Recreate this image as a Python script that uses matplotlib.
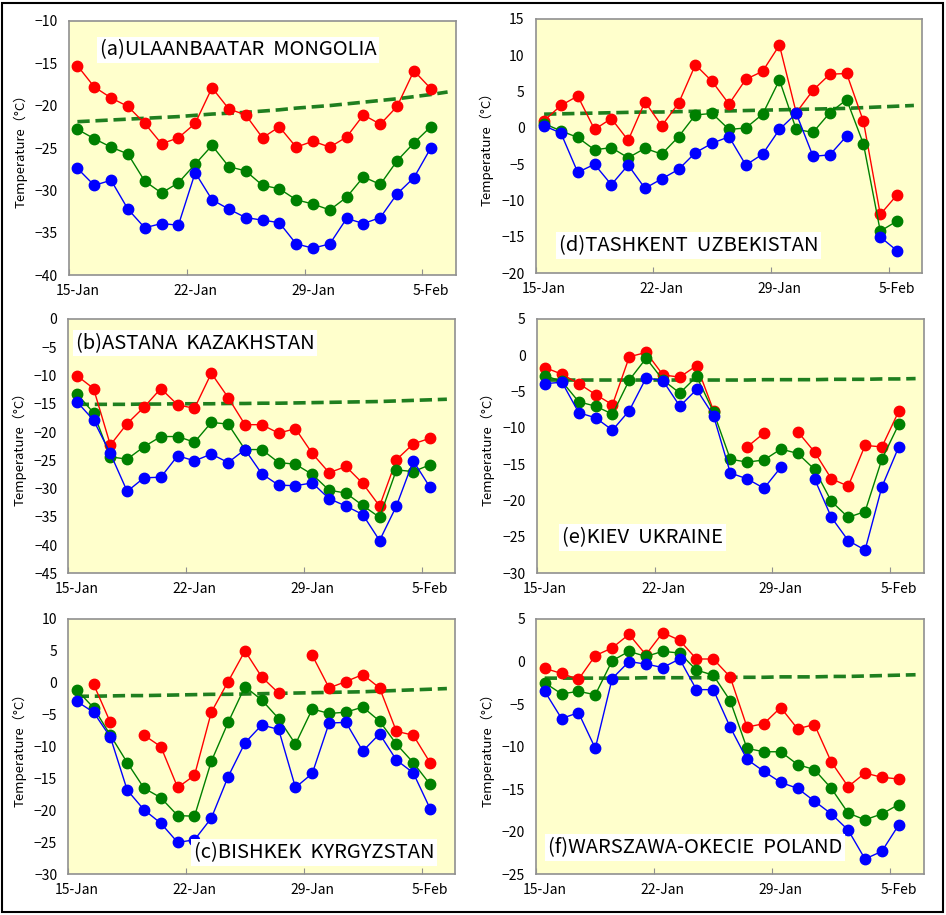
import numpy as np
import matplotlib
matplotlib.use('Agg')
import matplotlib.pyplot as plt
from matplotlib.patches import Rectangle

plt.rcParams['font.family'] = ['Noto Sans CJK JP', 'DejaVu Sans']

#%% data: daily max / mean / min from 15-Jan to 5-Feb, plus the normal (mean) curve
nan = np.nan
date_ticks = ['15-Jan', '22-Jan', '29-Jan', '5-Feb']

# (a) Ulaanbaatar
a_max = [-15.3, -17.8, -19.1, -20.1, -22.1, -24.5, -23.8, -22.1, -17.9, -20.4, -21.1,
         -23.8, -22.5, -24.9, -24.2, -24.9, -23.7, -21.1, -22.2, -20.1, -15.9, -18.0]
a_mean = [-22.8, -23.9, -24.9, -25.7, -28.9, -30.3, -29.1, -26.9, -24.7, -27.2, -27.7,
          -29.4, -29.8, -31.1, -31.6, -32.3, -30.8, -28.4, -29.3, -26.5, -24.4, -22.5]
a_min = [-27.4, -29.4, -28.8, -32.2, -34.4, -33.9, -34.1, -27.9, -31.1, -32.2, -33.2,
         -33.5, -33.8, -36.3, -36.8, -36.3, -33.3, -33.9, -33.2, -30.4, -28.5, -25.0]
a_norm = [-21.9, -21.8, -21.7, -21.6, -21.5, -21.4, -21.3, -21.15, -21.0, -20.9, -20.8, -20.65,
          -20.5, -20.3, -20.15, -20.0, -19.8, -19.6, -19.4, -19.2, -18.95, -18.7, -18.4]

# (b) Astana
b_max = [-10.0, -12.3, -22.3, -18.5, -15.6, -12.3, -15.2, -15.8, -9.6, -13.9, -18.7,
         -18.7, -20.2, -19.4, -23.8, -27.2, -26.1, -29.1, -33.1, -24.9, -22.1, -21.1]
b_mean = [-13.2, -16.6, -24.4, -24.8, -22.6, -20.8, -20.8, -21.8, -18.3, -18.6, -23.1,
          -23.1, -25.4, -25.7, -27.5, -30.3, -30.8, -33.0, -35.1, -26.7, -27.0, -25.8]
b_min = [-14.6, -17.9, -23.8, -30.5, -28.1, -28.0, -24.2, -25.1, -23.9, -25.4, -23.1,
         -27.4, -29.4, -29.5, -29.0, -31.8, -33.1, -34.6, -39.2, -33.1, -25.1, -29.8]
b_norm = [-15.1, -15.1, -15.1, -15.1, -15.05, -15.05, -15.0, -15.0, -15.0, -14.95, -14.95, -14.9,
          -14.9, -14.85, -14.8, -14.75, -14.7, -14.65, -14.6, -14.5, -14.4, -14.3, -14.2]

# (c) Bishkek
c_max = [nan, -0.2, -6.2, nan, -8.2, -10.0, -16.4, -14.5, -4.6, 0.2, 5.0,
         0.9, -1.6, nan, 4.3, -0.8, 0.2, 1.3, -0.8, -7.6, -8.2, -12.5]
c_mean = [-1.1, -3.9, -8.2, -12.5, -16.5, -18.0, -20.8, -20.9, -12.3, -6.2, -0.6,
          -2.7, -5.6, -9.6, -4.1, -4.8, -4.6, -3.8, -6.0, -9.6, -12.5, -15.9]
c_min = [-2.9, -4.6, -8.5, -16.8, -19.9, -22.0, -25.0, -24.6, -21.2, -14.7, -9.4,
         -6.6, -7.3, -16.4, -14.2, -6.3, -6.2, -10.7, -8.0, -12.1, -14.1, -19.7]
c_norm = [-2.1, -2.1, -2.05, -2.0, -2.0, -1.95, -1.9, -1.85, -1.8, -1.8, -1.75, -1.7,
          -1.65, -1.6, -1.55, -1.5, -1.45, -1.4, -1.3, -1.2, -1.1, -1.0, -0.9]

# (d) Tashkent
d_max = [1.0, 3.1, 4.4, -0.2, 1.3, -1.7, 3.6, 0.3, 3.4, 8.7, 6.4,
         3.3, 6.7, 7.8, 11.4, 2.1, 5.2, 7.4, 7.5, 0.9, -11.9, -9.2]
d_mean = [0.6, -0.4, -1.3, -3.0, -2.7, -4.1, -2.8, -3.6, -1.2, 1.8, 2.0,
          -0.2, 0.0, 1.9, 6.6, -0.2, -0.6, 2.1, 3.9, -2.2, -14.2, -12.8]
d_min = [0.3, -0.7, -6.1, -5.0, -7.8, -5.1, -8.3, -7.0, -5.7, -3.4, -2.1,
         -1.2, -5.1, -3.6, -0.2, 2.0, -3.9, -3.7, -1.1, nan, -15.0, -16.9]
d_norm = [1.9, 1.95, 2.0, 2.05, 2.1, 2.15, 2.2, 2.2, 2.25, 2.3, 2.3, 2.35,
          2.4, 2.45, 2.5, 2.55, 2.6, 2.65, 2.7, 2.8, 2.9, 3.0, 3.1]

# (e) Kiev
e_max = [-1.7, -2.6, -3.9, -5.4, -6.8, -0.2, 0.4, -2.7, -3.0, -1.4, -7.6,
         nan, -12.6, -10.7, nan, -10.5, -13.3, -17.0, -18.0, -12.4, -12.6, -7.7]
e_mean = [-2.8, -3.6, -6.4, -7.0, -8.1, -3.4, -0.4, -3.4, -5.2, -2.9, -7.8,
          -14.3, -14.7, -14.4, -12.9, -13.5, -15.7, -20.1, -22.3, -21.5, -14.3, -9.5]
e_min = [-3.9, -3.7, -7.9, -8.6, -10.3, -7.6, -3.1, -3.5, -7.0, -4.7, -8.3,
         -16.2, -17.0, -18.3, -15.4, nan, -17.0, -22.3, -25.5, -26.8, -18.1, -12.6]
e_norm = [-3.4, -3.4, -3.4, -3.4, -3.4, -3.4, -3.4, -3.4, -3.4, -3.4, -3.4, -3.4,
          -3.4, -3.35, -3.35, -3.35, -3.35, -3.3, -3.3, -3.3, -3.25, -3.25, -3.2]

# (f) Warszawa-Okecie
f_max = [-0.8, -1.4, -2.1, 0.7, 1.6, 3.2, 0.8, 3.4, 2.5, 0.3, 0.3,
         -1.8, -7.7, -7.3, -5.4, -7.9, -7.4, -11.8, -14.7, -13.1, -13.6, -13.8]
f_mean = [-2.5, -3.8, -3.5, -3.9, 0.1, 1.2, 0.6, 1.2, 1.0, -1.0, -1.6,
          -4.6, -10.2, -10.6, -10.6, -12.1, -12.7, -14.9, -17.8, -18.6, -17.9, -16.8]
f_min = [-3.5, -6.7, -6.0, -10.2, -2.0, 0.0, -0.3, -0.7, 0.3, -3.3, -3.3,
         -7.7, -11.5, -12.9, -14.2, -14.9, -16.4, -17.9, -19.8, -23.2, -22.3, -19.2]
f_norm = [-1.95, -1.95, -1.95, -1.95, -1.95, -1.95, -1.9, -1.9, -1.9, -1.9, -1.9, -1.85,
          -1.85, -1.85, -1.8, -1.8, -1.8, -1.75, -1.75, -1.7, -1.65, -1.6, -1.55]

#%% figure
W, H = 946, 915
fig = plt.figure(figsize=(W / 100, H / 100), dpi=100)

# panels: (data, label, y-range, label position in axes coords, axes box in pixels)
panels = [
    (a_max, a_mean, a_min, a_norm, '(a)ULAANBAATAR  MONGOLIA', (-40, -10), (0.08, 0.885), (69, 20.7, 456, 275.3)),
    (b_max, b_mean, b_min, b_norm, '(b)ASTANA  KAZAKHSTAN', (-45, 0), (0.02, 0.905), (68.3, 319, 455.3, 573.3)),
    (c_max, c_mean, c_min, c_norm, '(c)BISHKEK  KYRGYZSTAN', (-30, 10), (0.325, 0.085), (68.3, 619, 455.3, 874.3)),
    (d_max, d_mean, d_min, d_norm, '(d)TASHKENT  UZBEKISTAN', (-20, 15), (0.06, 0.11), (535.7, 19, 922.3, 273.3)),
    (e_max, e_mean, e_min, e_norm, '(e)KIEV  UKRAINE', (-30, 5), (0.065, 0.14), (536.7, 319, 924, 573.3)),
    (f_max, f_mean, f_min, f_norm, '(f)WARSZAWA-OKECIE  POLAND', (-25, 5), (0.03, 0.105), (536.3, 619, 924, 874.3)),
]

x = np.arange(22) + 0.5
xn = np.arange(23) + 0.5

for tmax, tmean, tmin, tnorm, label, ylim, lpos, box in panels:
    x0, y0, x1, y1 = box
    ax = fig.add_axes([x0 / W, 1 - y1 / H, (x1 - x0) / W, (y1 - y0) / H])
    ax.set_facecolor('#ffffcc')
    for s in ax.spines.values():
        s.set_color('#909090')
        s.set_linewidth(1.2)

    ax.plot(xn, tnorm, '--', color='#1f7f1f', lw=2.6, dashes=(3.4, 1.6), zorder=2)
    ax.plot(x, tmax, '-o', color='#ff0000', lw=1, ms=7.5, zorder=3)
    ax.plot(x, tmean, '-o', color='#008000', lw=1, ms=7.5, zorder=3)
    ax.plot(x, tmin, '-o', color='#0000ff', lw=1, ms=7.5, zorder=3)

    ax.set_xlim(0, 23)
    ax.set_ylim(*ylim)
    yt = np.arange(ylim[0], ylim[1] + 1, 5)
    ax.set_yticks(yt)
    ax.set_yticklabels([str(v).replace('-', '\u2212') for v in yt])
    ax.tick_params(axis='y', length=0, pad=8, labelsize=10, colors='black')

    # tick marks at week boundaries, labels centred on the day
    ax.set_xticks([0, 7, 14, 21])
    ax.set_xticklabels([])
    ax.set_xticks([0.5, 7.5, 14.5, 21.5], minor=True)
    ax.set_xticklabels(date_ticks, minor=True)
    ax.tick_params(axis='x', which='major', direction='in', length=4, color='#909090')
    ax.tick_params(axis='x', which='minor', length=0, pad=6, labelsize=10)

    ax.set_ylabel('Temperature（°C）', fontsize=9.5)
    ax.yaxis.set_label_coords(-0.108, 0.5)

    ax.text(lpos[0], lpos[1], label, transform=ax.transAxes, fontsize=14.5,
            va='center', ha='left', zorder=5,
            bbox=dict(facecolor='white', edgecolor='none', pad=2))

# outer frame
fig.patches.append(Rectangle((2 / W, 3 / H), 941 / W, 909 / H, transform=fig.transFigure,
                             fill=False, edgecolor='black', lw=1.5))

plt.savefig('out.png', dpi=100)
plt.close()
